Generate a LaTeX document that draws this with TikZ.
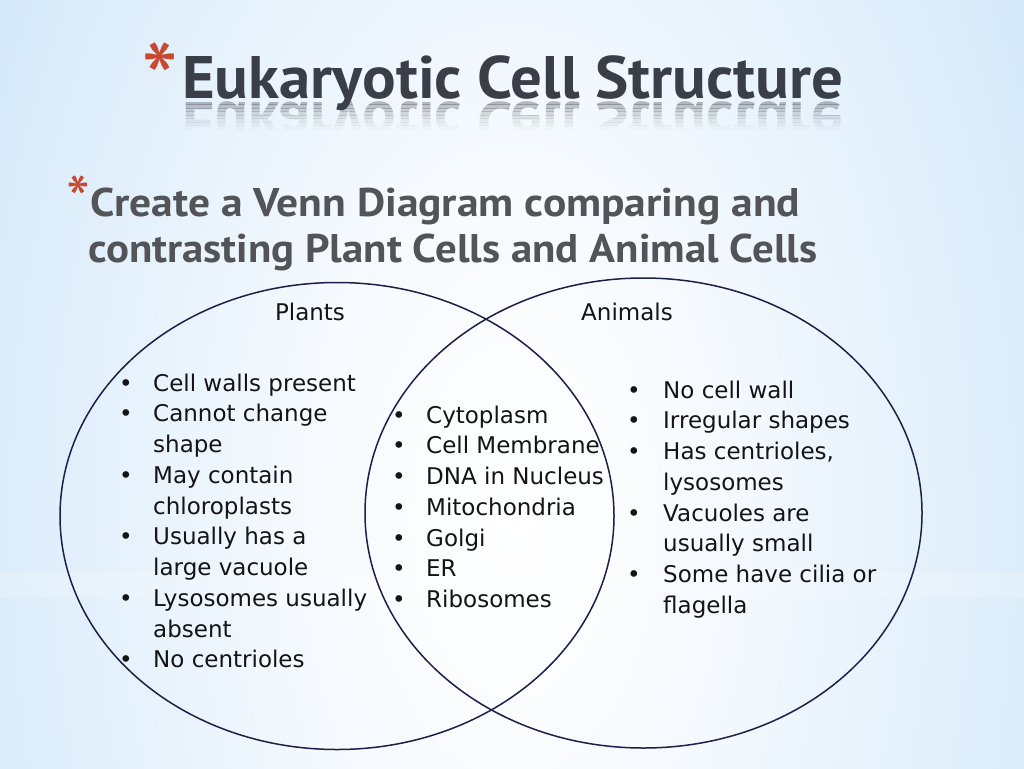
\documentclass[tikz,border=0pt]{standalone}
\usepackage{fontspec}
\setmainfont{PT Sans}
\newfontfamily\bodyfam{DejaVu Sans}
\usepackage{graphicx}
\usetikzlibrary{shapes.geometric}
\definecolor{ink}{RGB}{20,20,22}
\definecolor{titlegray}{RGB}{58,62,72}
\definecolor{subgray}{RGB}{82,84,88}
\definecolor{starred}{RGB}{200,72,48}
\definecolor{vennline}{RGB}{28,32,72}
\definecolor{bg1}{RGB}{246,250,254}
\definecolor{bg2}{RGB}{225,239,251}
\definecolor{bg3}{RGB}{205,229,248}
\definecolor{bg4}{RGB}{183,217,245}
\definecolor{bg5}{RGB}{166,207,240}
\definecolor{bg6}{RGB}{155,200,238}
\pgfdeclareradialshading{bgshade}{\pgfpoint{0bp}{0bp}}{color(0bp)=(white); color(10bp)=(bg1); color(22bp)=(bg2); color(34bp)=(bg3); color(46bp)=(bg4); color(60bp)=(bg5); color(72bp)=(bg6)}
\newcommand{\bodyfont}{\bodyfam\fontsize{23}{27}\selectfont}
\newsavebox{\titlebox}
\tikzset{
  venn/.style={draw=vennline, line width=1.5pt, ellipse, inner sep=0pt, fill=none},
  itemtext/.style={anchor=base west, inner sep=0pt, text=ink, font=\bodyfont},
  bul/.style={anchor=base, inner sep=0pt, text=ink, font=\bodyfont},
  setlabel/.style={anchor=base, inner sep=0pt, text=ink, font=\bodyfont},
  star/.style={anchor=base west, inner sep=0pt, text=starred},
}
\begin{document}
\sbox{\titlebox}{\color{titlegray}\resizebox{661pt}{\height}{\fontsize{60}{66}\selectfont\bfseries Eukaryotic Cell Structure}}
\begin{tikzpicture}[x=1pt,y=-1pt]
\useasboundingbox (0,0) rectangle (1024,768);
% background
\begin{scope}
\clip (0,0) rectangle (1024,768);
\shade[shading=bgshade] (0,-380) rectangle (1024,1420);
\fill[white, opacity=0.18] (0,572) rectangle (1024,598);
\end{scope}
% title
\node[star, font=\fontsize{106}{106}\selectfont] (tstar) at (141,118) {*};
\node[anchor=base west, inner sep=0pt] (title) at (182,98) {\usebox{\titlebox}};
\foreach \k/\op in {0/0.34,1/0.28,2/0.22,3/0.17,4/0.12,5/0.08,6/0.05,7/0.025} {
  \begin{scope}
  \clip (150,{101+3.5*\k}) rectangle (870,{101+3.5*(\k+1)});
  \node[anchor=base west, inner sep=0pt, opacity=\op, yscale=-1, transform shape] (refl\k) at (182,102) {\usebox{\titlebox}};
  \end{scope}
}
% subtitle
\node[star, font=\fontsize{68}{68}\selectfont] (sstar) at (66,224) {*};
\node[anchor=base west, inner sep=0pt, text=subgray] (sub1) at (90,216)
  {\resizebox{710pt}{\height}{\fontsize{40}{46}\selectfont\bfseries Create a Venn Diagram comparing and}};
\node[anchor=base west, inner sep=0pt, text=subgray] (sub2) at (88,262)
  {\resizebox{729pt}{\height}{\fontsize{40}{46}\selectfont\bfseries contrasting Plant Cells and Animal Cells}};
% venn circles
\node[venn, minimum width=554pt, minimum height=467pt] (plantset) at (337,516) {};
\node[venn, minimum width=557pt, minimum height=470pt] (animalset) at (643.5,513) {};
\node[setlabel] (plantlabel) at (310,320) {Plants};
\node[setlabel] (animallabel) at (627,320) {Animals};
% plant list
\node[bul] (pb1) at (126,391) {•};
\node[itemtext] (p1) at (153,391) {Cell walls present};
\node[bul] (pb2) at (126,421.75) {•};
\node[itemtext] (p2a) at (153,421.75) {Cannot change};
\node[itemtext] (p2b) at (153,452.5) {shape};
\node[bul] (pb3) at (126,483.25) {•};
\node[itemtext] (p3a) at (153,483.25) {May contain};
\node[itemtext] (p3b) at (153,514) {chloroplasts};
\node[bul] (pb4) at (126,544.75) {•};
\node[itemtext] (p4a) at (153,544.75) {Usually has a};
\node[itemtext] (p4b) at (153,575.5) {large vacuole};
\node[bul] (pb5) at (126,606.25) {•};
\node[itemtext] (p5a) at (153,606.25) {Lysosomes usually};
\node[itemtext] (p5b) at (153,637) {absent};
\node[bul] (pb6) at (126,667.75) {•};
\node[itemtext] (p6) at (153,667.75) {No centrioles};
% shared list
\node[bul] (cb1) at (399,423) {•};
\node[itemtext] (c1) at (426,423) {Cytoplasm};
\node[bul] (cb2) at (399,453.75) {•};
\node[itemtext] (c2) at (426,453.75) {Cell Membrane};
\node[bul] (cb3) at (399,484.5) {•};
\node[itemtext] (c3) at (426,484.5) {DNA in Nucleus};
\node[bul] (cb4) at (399,515.25) {•};
\node[itemtext] (c4) at (426,515.25) {Mitochondria};
\node[bul] (cb5) at (399,546) {•};
\node[itemtext] (c5) at (426,546) {Golgi};
\node[bul] (cb6) at (399,576.75) {•};
\node[itemtext] (c6) at (426,576.75) {ER};
\node[bul] (cb7) at (399,607.5) {•};
\node[itemtext] (c7) at (426,607.5) {Ribosomes};
% animal list
\node[bul] (ab1) at (634,398) {•};
\node[itemtext] (a1) at (663,398) {No cell wall};
\node[bul] (ab2) at (634,428.75) {•};
\node[itemtext] (a2) at (663,428.75) {Irregular shapes};
\node[bul] (ab3) at (634,459.5) {•};
\node[itemtext] (a3a) at (663,459.5) {Has centrioles,};
\node[itemtext] (a3b) at (663,490.25) {lysosomes};
\node[bul] (ab4) at (634,521) {•};
\node[itemtext] (a4a) at (663,521) {Vacuoles are};
\node[itemtext] (a4b) at (663,551.75) {usually small};
\node[bul] (ab5) at (634,582.5) {•};
\node[itemtext] (a5a) at (663,582.5) {Some have cilia or};
\node[itemtext] (a5b) at (663,613.25) {flagella};
\end{tikzpicture}
\end{document}
